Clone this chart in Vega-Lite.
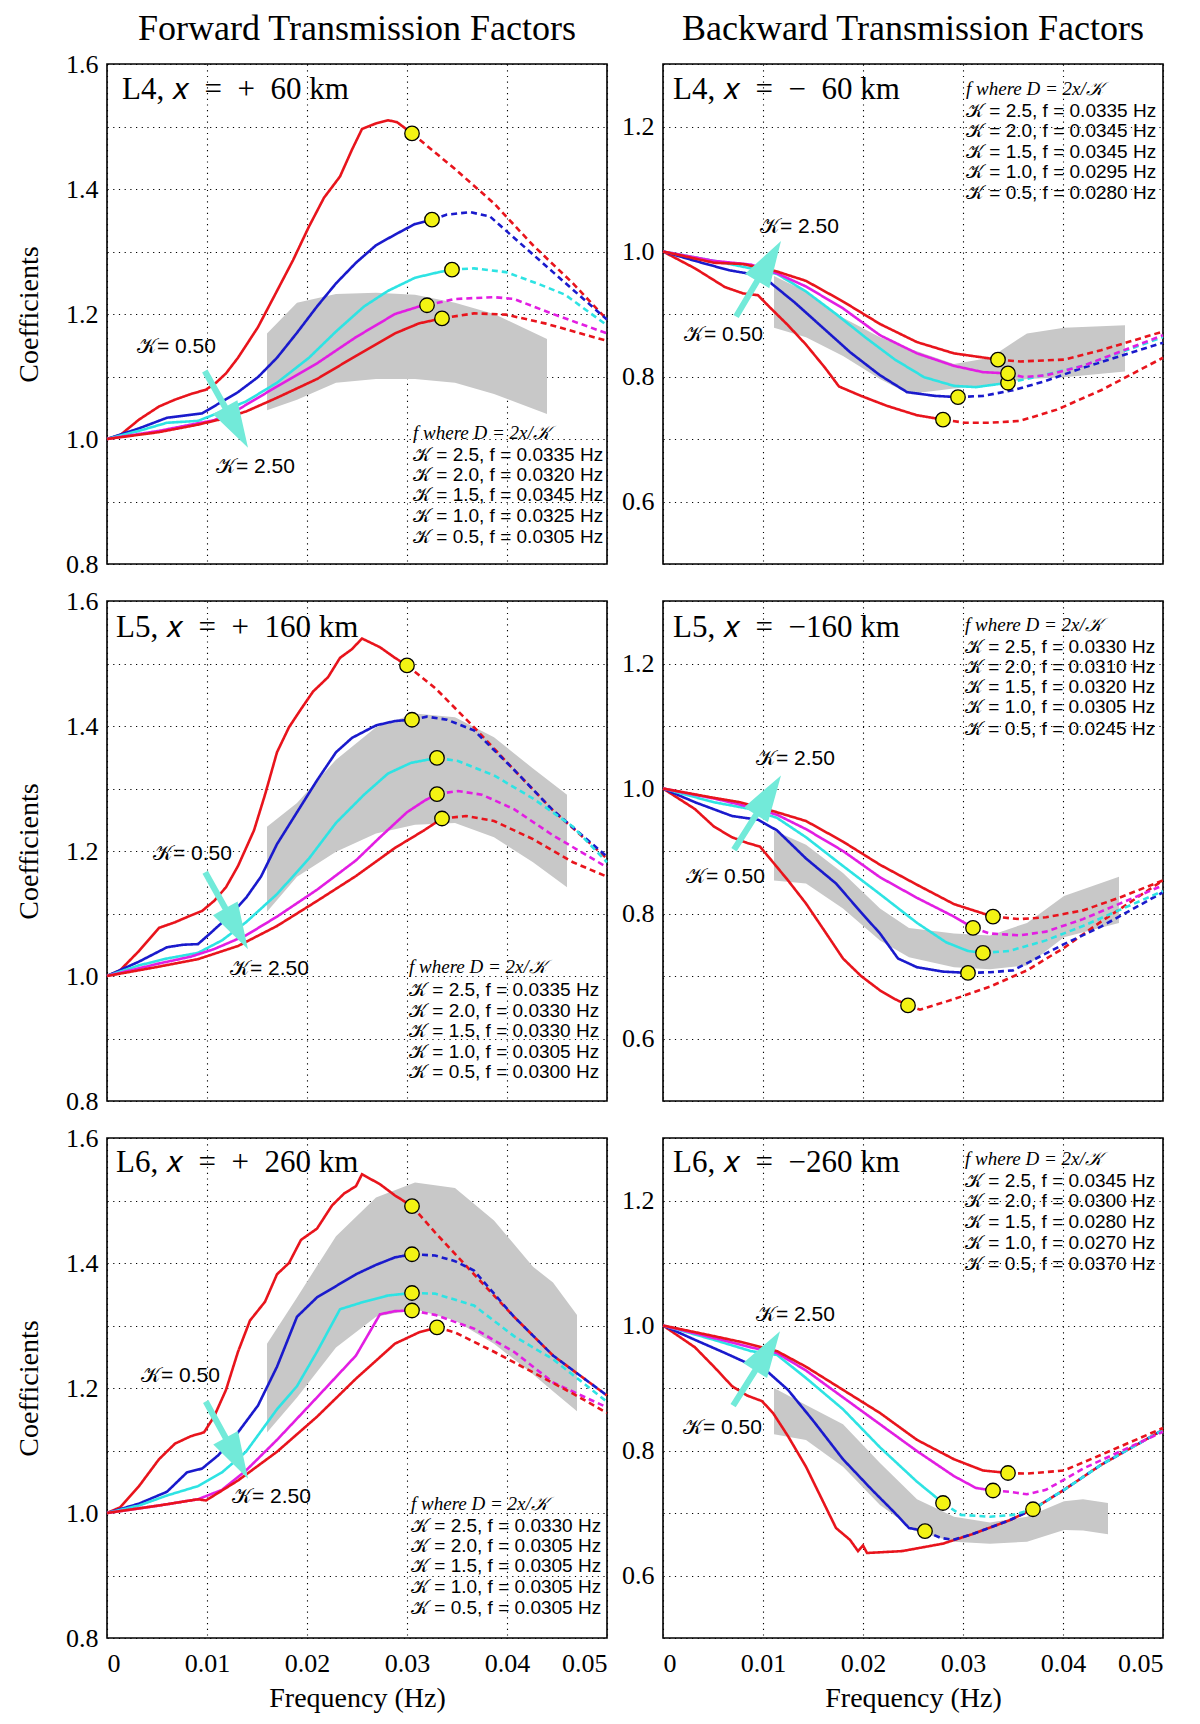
{
"$schema": "https://vega.github.io/schema/vega-lite/v6.json",
"background": "white",
"padding": {"left": 14, "top": 10, "right": 10, "bottom": 10},
"config": {
 "view": {"stroke": "black", "strokeWidth": 1.6},
 "axis": {"grid": true, "gridColor": "black", "gridDash": [1.2, 4.5], "gridWidth": 1.1, "gridOpacity": 1, "domain": false, "ticks": false, "labelFont": "Liberation Serif", "labelFontSize": 26, "labelColor": "black", "titleFont": "Liberation Serif", "titleFontSize": 28, "titleFontWeight": "normal", "titleColor": "black", "zindex": 1},
 "axisY": {"labelPadding": 9, "titlePadding": 22},
 "axisX": {"labelPadding": 12, "titlePadding": 8},
 "title": {"font": "Liberation Serif", "fontSize": 36, "fontWeight": "normal", "color": "black", "anchor": "middle", "frame": "group", "offset": 3}
},
"datasets": {
 "lines": [
  {"p":"L4f","k":"0.5","s":"a","x":0,"y":1},{"p":"L4f","k":"0.5","s":"a","x":0.0013,"y":1.006},{"p":"L4f","k":"0.5","s":"a","x":0.0032,"y":1.031},{"p":"L4f","k":"0.5","s":"a","x":0.0052,"y":1.052},{"p":"L4f","k":"0.5","s":"a","x":0.0068,"y":1.063},{"p":"L4f","k":"0.5","s":"a","x":0.0084,"y":1.072},{"p":"L4f","k":"0.5","s":"a","x":0.0099,"y":1.079},{"p":"L4f","k":"0.5","s":"a","x":0.0109,"y":1.09},{"p":"L4f","k":"0.5","s":"a","x":0.0119,"y":1.105},{"p":"L4f","k":"0.5","s":"a","x":0.0131,"y":1.13},{"p":"L4f","k":"0.5","s":"a","x":0.0151,"y":1.179},{"p":"L4f","k":"0.5","s":"a","x":0.017,"y":1.237},{"p":"L4f","k":"0.5","s":"a","x":0.0186,"y":1.286},{"p":"L4f","k":"0.5","s":"a","x":0.0202,"y":1.34},{"p":"L4f","k":"0.5","s":"a","x":0.0217,"y":1.386},{"p":"L4f","k":"0.5","s":"a","x":0.0233,"y":1.42},{"p":"L4f","k":"0.5","s":"a","x":0.0245,"y":1.463},{"p":"L4f","k":"0.5","s":"a","x":0.0255,"y":1.496},{"p":"L4f","k":"0.5","s":"a","x":0.0269,"y":1.505},{"p":"L4f","k":"0.5","s":"a","x":0.0281,"y":1.51},{"p":"L4f","k":"0.5","s":"a","x":0.029,"y":1.507},{"p":"L4f","k":"0.5","s":"a","x":0.0305,"y":1.489},
  {"p":"L4f","k":"0.5","s":"d","x":0.0305,"y":1.489},{"p":"L4f","k":"0.5","s":"d","x":0.0348,"y":1.432},{"p":"L4f","k":"0.5","s":"d","x":0.0387,"y":1.377},{"p":"L4f","k":"0.5","s":"d","x":0.0426,"y":1.31},{"p":"L4f","k":"0.5","s":"d","x":0.0466,"y":1.249},{"p":"L4f","k":"0.5","s":"d","x":0.05,"y":1.191},
  {"p":"L4f","k":"1.0","s":"a","x":0,"y":1},{"p":"L4f","k":"1.0","s":"a","x":0.0032,"y":1.017},{"p":"L4f","k":"1.0","s":"a","x":0.006,"y":1.034},{"p":"L4f","k":"1.0","s":"a","x":0.008,"y":1.038},{"p":"L4f","k":"1.0","s":"a","x":0.0095,"y":1.041},{"p":"L4f","k":"1.0","s":"a","x":0.0111,"y":1.056},{"p":"L4f","k":"1.0","s":"a","x":0.0131,"y":1.075},{"p":"L4f","k":"1.0","s":"a","x":0.0151,"y":1.099},{"p":"L4f","k":"1.0","s":"a","x":0.017,"y":1.13},{"p":"L4f","k":"1.0","s":"a","x":0.019,"y":1.17},{"p":"L4f","k":"1.0","s":"a","x":0.021,"y":1.212},{"p":"L4f","k":"1.0","s":"a","x":0.0229,"y":1.249},{"p":"L4f","k":"1.0","s":"a","x":0.0249,"y":1.282},{"p":"L4f","k":"1.0","s":"a","x":0.0269,"y":1.31},{"p":"L4f","k":"1.0","s":"a","x":0.0288,"y":1.327},{"p":"L4f","k":"1.0","s":"a","x":0.0308,"y":1.344},{"p":"L4f","k":"1.0","s":"a","x":0.0325,"y":1.351},
  {"p":"L4f","k":"1.0","s":"d","x":0.0325,"y":1.351},{"p":"L4f","k":"1.0","s":"d","x":0.034,"y":1.359},{"p":"L4f","k":"1.0","s":"d","x":0.0363,"y":1.363},{"p":"L4f","k":"1.0","s":"d","x":0.0383,"y":1.356},{"p":"L4f","k":"1.0","s":"d","x":0.0407,"y":1.322},{"p":"L4f","k":"1.0","s":"d","x":0.0446,"y":1.267},{"p":"L4f","k":"1.0","s":"d","x":0.05,"y":1.191},
  {"p":"L4f","k":"1.5","s":"a","x":0,"y":1},{"p":"L4f","k":"1.5","s":"a","x":0.0032,"y":1.013},{"p":"L4f","k":"1.5","s":"a","x":0.006,"y":1.026},{"p":"L4f","k":"1.5","s":"a","x":0.0091,"y":1.029},{"p":"L4f","k":"1.5","s":"a","x":0.0115,"y":1.044},{"p":"L4f","k":"1.5","s":"a","x":0.0139,"y":1.06},{"p":"L4f","k":"1.5","s":"a","x":0.017,"y":1.09},{"p":"L4f","k":"1.5","s":"a","x":0.0202,"y":1.13},{"p":"L4f","k":"1.5","s":"a","x":0.0229,"y":1.172},{"p":"L4f","k":"1.5","s":"a","x":0.0257,"y":1.212},{"p":"L4f","k":"1.5","s":"a","x":0.0281,"y":1.237},{"p":"L4f","k":"1.5","s":"a","x":0.0308,"y":1.258},{"p":"L4f","k":"1.5","s":"a","x":0.0332,"y":1.267},{"p":"L4f","k":"1.5","s":"a","x":0.0345,"y":1.271},
  {"p":"L4f","k":"1.5","s":"d","x":0.0345,"y":1.271},{"p":"L4f","k":"1.5","s":"d","x":0.0367,"y":1.273},{"p":"L4f","k":"1.5","s":"d","x":0.0399,"y":1.267},{"p":"L4f","k":"1.5","s":"d","x":0.043,"y":1.249},{"p":"L4f","k":"1.5","s":"d","x":0.0458,"y":1.231},{"p":"L4f","k":"1.5","s":"d","x":0.05,"y":1.182},
  {"p":"L4f","k":"2.0","s":"a","x":0,"y":1},{"p":"L4f","k":"2.0","s":"a","x":0.0052,"y":1.013},{"p":"L4f","k":"2.0","s":"a","x":0.0084,"y":1.023},{"p":"L4f","k":"2.0","s":"a","x":0.0107,"y":1.03},{"p":"L4f","k":"2.0","s":"a","x":0.0131,"y":1.047},{"p":"L4f","k":"2.0","s":"a","x":0.017,"y":1.084},{"p":"L4f","k":"2.0","s":"a","x":0.021,"y":1.121},{"p":"L4f","k":"2.0","s":"a","x":0.0249,"y":1.163},{"p":"L4f","k":"2.0","s":"a","x":0.0288,"y":1.2},{"p":"L4f","k":"2.0","s":"a","x":0.0312,"y":1.212},{"p":"L4f","k":"2.0","s":"a","x":0.032,"y":1.214},
  {"p":"L4f","k":"2.0","s":"d","x":0.032,"y":1.214},{"p":"L4f","k":"2.0","s":"d","x":0.0348,"y":1.224},{"p":"L4f","k":"2.0","s":"d","x":0.0387,"y":1.227},{"p":"L4f","k":"2.0","s":"d","x":0.0407,"y":1.224},{"p":"L4f","k":"2.0","s":"d","x":0.0446,"y":1.2},{"p":"L4f","k":"2.0","s":"d","x":0.05,"y":1.169},
  {"p":"L4f","k":"2.5","s":"a","x":0,"y":1},{"p":"L4f","k":"2.5","s":"a","x":0.0052,"y":1.011},{"p":"L4f","k":"2.5","s":"a","x":0.0091,"y":1.023},{"p":"L4f","k":"2.5","s":"a","x":0.0115,"y":1.032},{"p":"L4f","k":"2.5","s":"a","x":0.0139,"y":1.044},{"p":"L4f","k":"2.5","s":"a","x":0.017,"y":1.066},{"p":"L4f","k":"2.5","s":"a","x":0.021,"y":1.096},{"p":"L4f","k":"2.5","s":"a","x":0.0249,"y":1.133},{"p":"L4f","k":"2.5","s":"a","x":0.0288,"y":1.169},{"p":"L4f","k":"2.5","s":"a","x":0.0312,"y":1.185},{"p":"L4f","k":"2.5","s":"a","x":0.0335,"y":1.193},
  {"p":"L4f","k":"2.5","s":"d","x":0.0335,"y":1.193},{"p":"L4f","k":"2.5","s":"d","x":0.0367,"y":1.201},{"p":"L4f","k":"2.5","s":"d","x":0.0399,"y":1.199},{"p":"L4f","k":"2.5","s":"d","x":0.0438,"y":1.185},{"p":"L4f","k":"2.5","s":"d","x":0.05,"y":1.157},

  {"p":"L4b","k":"0.5","s":"a","x":0,"y":1},{"p":"L4b","k":"0.5","s":"a","x":0.0032,"y":0.973},{"p":"L4b","k":"0.5","s":"a","x":0.0062,"y":0.943},{"p":"L4b","k":"0.5","s":"a","x":0.008,"y":0.933},{"p":"L4b","k":"0.5","s":"a","x":0.0095,"y":0.93},{"p":"L4b","k":"0.5","s":"a","x":0.0106,"y":0.912},{"p":"L4b","k":"0.5","s":"a","x":0.0125,"y":0.882},{"p":"L4b","k":"0.5","s":"a","x":0.0143,"y":0.851},{"p":"L4b","k":"0.5","s":"a","x":0.0162,"y":0.814},{"p":"L4b","k":"0.5","s":"a","x":0.0176,"y":0.784},{"p":"L4b","k":"0.5","s":"a","x":0.0198,"y":0.769},{"p":"L4b","k":"0.5","s":"a","x":0.0224,"y":0.753},{"p":"L4b","k":"0.5","s":"a","x":0.0254,"y":0.738},{"p":"L4b","k":"0.5","s":"a","x":0.028,"y":0.731},
  {"p":"L4b","k":"0.5","s":"d","x":0.028,"y":0.731},{"p":"L4b","k":"0.5","s":"d","x":0.0302,"y":0.726},{"p":"L4b","k":"0.5","s":"d","x":0.0327,"y":0.726},{"p":"L4b","k":"0.5","s":"d","x":0.0357,"y":0.729},{"p":"L4b","k":"0.5","s":"d","x":0.0394,"y":0.747},{"p":"L4b","k":"0.5","s":"d","x":0.0438,"y":0.778},{"p":"L4b","k":"0.5","s":"d","x":0.05,"y":0.83},
  {"p":"L4b","k":"1.0","s":"a","x":0,"y":1},{"p":"L4b","k":"1.0","s":"a","x":0.0032,"y":0.985},{"p":"L4b","k":"1.0","s":"a","x":0.0066,"y":0.97},{"p":"L4b","k":"1.0","s":"a","x":0.0088,"y":0.964},{"p":"L4b","k":"1.0","s":"a","x":0.0106,"y":0.952},{"p":"L4b","k":"1.0","s":"a","x":0.0132,"y":0.918},{"p":"L4b","k":"1.0","s":"a","x":0.0162,"y":0.875},{"p":"L4b","k":"1.0","s":"a","x":0.0187,"y":0.839},{"p":"L4b","k":"1.0","s":"a","x":0.0217,"y":0.802},{"p":"L4b","k":"1.0","s":"a","x":0.0244,"y":0.775},{"p":"L4b","k":"1.0","s":"a","x":0.0272,"y":0.769},{"p":"L4b","k":"1.0","s":"a","x":0.0295,"y":0.767},
  {"p":"L4b","k":"1.0","s":"d","x":0.0295,"y":0.767},{"p":"L4b","k":"1.0","s":"d","x":0.032,"y":0.769},{"p":"L4b","k":"1.0","s":"d","x":0.035,"y":0.778},{"p":"L4b","k":"1.0","s":"d","x":0.0383,"y":0.793},{"p":"L4b","k":"1.0","s":"d","x":0.042,"y":0.814},{"p":"L4b","k":"1.0","s":"d","x":0.05,"y":0.854},
  {"p":"L4b","k":"1.5","s":"a","x":0,"y":1},{"p":"L4b","k":"1.5","s":"a","x":0.0051,"y":0.985},{"p":"L4b","k":"1.5","s":"a","x":0.0088,"y":0.973},{"p":"L4b","k":"1.5","s":"a","x":0.0114,"y":0.964},{"p":"L4b","k":"1.5","s":"a","x":0.0143,"y":0.936},{"p":"L4b","k":"1.5","s":"a","x":0.0173,"y":0.9},{"p":"L4b","k":"1.5","s":"a","x":0.0202,"y":0.863},{"p":"L4b","k":"1.5","s":"a","x":0.0232,"y":0.827},{"p":"L4b","k":"1.5","s":"a","x":0.0261,"y":0.799},{"p":"L4b","k":"1.5","s":"a","x":0.0291,"y":0.785},{"p":"L4b","k":"1.5","s":"a","x":0.0313,"y":0.783},{"p":"L4b","k":"1.5","s":"a","x":0.0345,"y":0.79},
  {"p":"L4b","k":"1.5","s":"d","x":0.0345,"y":0.79},{"p":"L4b","k":"1.5","s":"d","x":0.0372,"y":0.799},{"p":"L4b","k":"1.5","s":"d","x":0.042,"y":0.817},{"p":"L4b","k":"1.5","s":"d","x":0.05,"y":0.863},
  {"p":"L4b","k":"2.0","s":"a","x":0,"y":1},{"p":"L4b","k":"2.0","s":"a","x":0.0051,"y":0.985},{"p":"L4b","k":"2.0","s":"a","x":0.0088,"y":0.979},{"p":"L4b","k":"2.0","s":"a","x":0.0114,"y":0.965},{"p":"L4b","k":"2.0","s":"a","x":0.0143,"y":0.944},{"p":"L4b","k":"2.0","s":"a","x":0.018,"y":0.909},{"p":"L4b","k":"2.0","s":"a","x":0.0217,"y":0.866},{"p":"L4b","k":"2.0","s":"a","x":0.0254,"y":0.837},{"p":"L4b","k":"2.0","s":"a","x":0.0291,"y":0.817},{"p":"L4b","k":"2.0","s":"a","x":0.032,"y":0.807},{"p":"L4b","k":"2.0","s":"a","x":0.0345,"y":0.805},
  {"p":"L4b","k":"2.0","s":"d","x":0.0345,"y":0.805},{"p":"L4b","k":"2.0","s":"d","x":0.0361,"y":0.799},{"p":"L4b","k":"2.0","s":"d","x":0.0383,"y":0.802},{"p":"L4b","k":"2.0","s":"d","x":0.042,"y":0.817},{"p":"L4b","k":"2.0","s":"d","x":0.05,"y":0.866},
  {"p":"L4b","k":"2.5","s":"a","x":0,"y":1},{"p":"L4b","k":"2.5","s":"a","x":0.0051,"y":0.982},{"p":"L4b","k":"2.5","s":"a","x":0.008,"y":0.98},{"p":"L4b","k":"2.5","s":"a","x":0.0114,"y":0.968},{"p":"L4b","k":"2.5","s":"a","x":0.0143,"y":0.953},{"p":"L4b","k":"2.5","s":"a","x":0.018,"y":0.92},{"p":"L4b","k":"2.5","s":"a","x":0.0217,"y":0.884},{"p":"L4b","k":"2.5","s":"a","x":0.0254,"y":0.855},{"p":"L4b","k":"2.5","s":"a","x":0.0291,"y":0.837},{"p":"L4b","k":"2.5","s":"a","x":0.0335,"y":0.827},
  {"p":"L4b","k":"2.5","s":"d","x":0.0335,"y":0.827},{"p":"L4b","k":"2.5","s":"d","x":0.0357,"y":0.824},{"p":"L4b","k":"2.5","s":"d","x":0.0401,"y":0.827},{"p":"L4b","k":"2.5","s":"d","x":0.0438,"y":0.842},{"p":"L4b","k":"2.5","s":"d","x":0.05,"y":0.872},

  {"p":"L5f","k":"0.5","s":"a","x":0,"y":1},{"p":"L5f","k":"0.5","s":"a","x":0.0013,"y":1.009},{"p":"L5f","k":"0.5","s":"a","x":0.0032,"y":1.04},{"p":"L5f","k":"0.5","s":"a","x":0.0052,"y":1.077},{"p":"L5f","k":"0.5","s":"a","x":0.0068,"y":1.086},{"p":"L5f","k":"0.5","s":"a","x":0.0084,"y":1.097},{"p":"L5f","k":"0.5","s":"a","x":0.0095,"y":1.104},{"p":"L5f","k":"0.5","s":"a","x":0.0107,"y":1.12},{"p":"L5f","k":"0.5","s":"a","x":0.0119,"y":1.142},{"p":"L5f","k":"0.5","s":"a","x":0.0131,"y":1.176},{"p":"L5f","k":"0.5","s":"a","x":0.0147,"y":1.233},{"p":"L5f","k":"0.5","s":"a","x":0.0158,"y":1.29},{"p":"L5f","k":"0.5","s":"a","x":0.017,"y":1.358},{"p":"L5f","k":"0.5","s":"a","x":0.0182,"y":1.398},{"p":"L5f","k":"0.5","s":"a","x":0.0194,"y":1.427},{"p":"L5f","k":"0.5","s":"a","x":0.0206,"y":1.455},{"p":"L5f","k":"0.5","s":"a","x":0.0221,"y":1.478},{"p":"L5f","k":"0.5","s":"a","x":0.0233,"y":1.509},{"p":"L5f","k":"0.5","s":"a","x":0.0245,"y":1.523},{"p":"L5f","k":"0.5","s":"a","x":0.0255,"y":1.54},{"p":"L5f","k":"0.5","s":"a","x":0.0273,"y":1.526},{"p":"L5f","k":"0.5","s":"a","x":0.0288,"y":1.509},{"p":"L5f","k":"0.5","s":"a","x":0.03,"y":1.497},
  {"p":"L5f","k":"0.5","s":"d","x":0.03,"y":1.497},{"p":"L5f","k":"0.5","s":"d","x":0.0328,"y":1.461},{"p":"L5f","k":"0.5","s":"d","x":0.0367,"y":1.398},{"p":"L5f","k":"0.5","s":"d","x":0.0407,"y":1.33},{"p":"L5f","k":"0.5","s":"d","x":0.0446,"y":1.265},{"p":"L5f","k":"0.5","s":"d","x":0.05,"y":1.188},
  {"p":"L5f","k":"1.0","s":"a","x":0,"y":1},{"p":"L5f","k":"1.0","s":"a","x":0.0032,"y":1.023},{"p":"L5f","k":"1.0","s":"a","x":0.006,"y":1.046},{"p":"L5f","k":"1.0","s":"a","x":0.0076,"y":1.05},{"p":"L5f","k":"1.0","s":"a","x":0.0091,"y":1.051},{"p":"L5f","k":"1.0","s":"a","x":0.0103,"y":1.068},{"p":"L5f","k":"1.0","s":"a","x":0.0123,"y":1.097},{"p":"L5f","k":"1.0","s":"a","x":0.0139,"y":1.125},{"p":"L5f","k":"1.0","s":"a","x":0.0154,"y":1.159},{"p":"L5f","k":"1.0","s":"a","x":0.017,"y":1.211},{"p":"L5f","k":"1.0","s":"a","x":0.019,"y":1.262},{"p":"L5f","k":"1.0","s":"a","x":0.021,"y":1.313},{"p":"L5f","k":"1.0","s":"a","x":0.0229,"y":1.358},{"p":"L5f","k":"1.0","s":"a","x":0.0245,"y":1.381},{"p":"L5f","k":"1.0","s":"a","x":0.0269,"y":1.401},{"p":"L5f","k":"1.0","s":"a","x":0.0288,"y":1.408},{"p":"L5f","k":"1.0","s":"a","x":0.0305,"y":1.41},
  {"p":"L5f","k":"1.0","s":"d","x":0.0305,"y":1.41},{"p":"L5f","k":"1.0","s":"d","x":0.032,"y":1.415},{"p":"L5f","k":"1.0","s":"d","x":0.034,"y":1.41},{"p":"L5f","k":"1.0","s":"d","x":0.0367,"y":1.393},{"p":"L5f","k":"1.0","s":"d","x":0.0407,"y":1.33},{"p":"L5f","k":"1.0","s":"d","x":0.0446,"y":1.265},{"p":"L5f","k":"1.0","s":"d","x":0.05,"y":1.191},
  {"p":"L5f","k":"1.5","s":"a","x":0,"y":1},{"p":"L5f","k":"1.5","s":"a","x":0.0032,"y":1.017},{"p":"L5f","k":"1.5","s":"a","x":0.006,"y":1.028},{"p":"L5f","k":"1.5","s":"a","x":0.0091,"y":1.037},{"p":"L5f","k":"1.5","s":"a","x":0.0115,"y":1.057},{"p":"L5f","k":"1.5","s":"a","x":0.0139,"y":1.086},{"p":"L5f","k":"1.5","s":"a","x":0.017,"y":1.131},{"p":"L5f","k":"1.5","s":"a","x":0.0202,"y":1.188},{"p":"L5f","k":"1.5","s":"a","x":0.0229,"y":1.245},{"p":"L5f","k":"1.5","s":"a","x":0.0257,"y":1.29},{"p":"L5f","k":"1.5","s":"a","x":0.0281,"y":1.324},{"p":"L5f","k":"1.5","s":"a","x":0.0304,"y":1.341},{"p":"L5f","k":"1.5","s":"a","x":0.033,"y":1.349},
  {"p":"L5f","k":"1.5","s":"d","x":0.033,"y":1.349},{"p":"L5f","k":"1.5","s":"d","x":0.0351,"y":1.344},{"p":"L5f","k":"1.5","s":"d","x":0.0387,"y":1.321},{"p":"L5f","k":"1.5","s":"d","x":0.0426,"y":1.284},{"p":"L5f","k":"1.5","s":"d","x":0.0466,"y":1.239},{"p":"L5f","k":"1.5","s":"d","x":0.05,"y":1.182},
  {"p":"L5f","k":"2.0","s":"a","x":0,"y":1},{"p":"L5f","k":"2.0","s":"a","x":0.0052,"y":1.02},{"p":"L5f","k":"2.0","s":"a","x":0.0084,"y":1.031},{"p":"L5f","k":"2.0","s":"a","x":0.0107,"y":1.043},{"p":"L5f","k":"2.0","s":"a","x":0.0139,"y":1.065},{"p":"L5f","k":"2.0","s":"a","x":0.017,"y":1.095},{"p":"L5f","k":"2.0","s":"a","x":0.021,"y":1.138},{"p":"L5f","k":"2.0","s":"a","x":0.0249,"y":1.185},{"p":"L5f","k":"2.0","s":"a","x":0.0273,"y":1.222},{"p":"L5f","k":"2.0","s":"a","x":0.03,"y":1.262},{"p":"L5f","k":"2.0","s":"a","x":0.0318,"y":1.281},{"p":"L5f","k":"2.0","s":"a","x":0.033,"y":1.291},
  {"p":"L5f","k":"2.0","s":"d","x":0.033,"y":1.291},{"p":"L5f","k":"2.0","s":"d","x":0.0351,"y":1.296},{"p":"L5f","k":"2.0","s":"d","x":0.0375,"y":1.29},{"p":"L5f","k":"2.0","s":"d","x":0.0407,"y":1.267},{"p":"L5f","k":"2.0","s":"d","x":0.0446,"y":1.225},{"p":"L5f","k":"2.0","s":"d","x":0.05,"y":1.174},
  {"p":"L5f","k":"2.5","s":"a","x":0,"y":1},{"p":"L5f","k":"2.5","s":"a","x":0.0052,"y":1.015},{"p":"L5f","k":"2.5","s":"a","x":0.0091,"y":1.027},{"p":"L5f","k":"2.5","s":"a","x":0.0131,"y":1.048},{"p":"L5f","k":"2.5","s":"a","x":0.017,"y":1.08},{"p":"L5f","k":"2.5","s":"a","x":0.021,"y":1.12},{"p":"L5f","k":"2.5","s":"a","x":0.0249,"y":1.16},{"p":"L5f","k":"2.5","s":"a","x":0.0288,"y":1.205},{"p":"L5f","k":"2.5","s":"a","x":0.0316,"y":1.232},{"p":"L5f","k":"2.5","s":"a","x":0.0335,"y":1.252},
  {"p":"L5f","k":"2.5","s":"d","x":0.0335,"y":1.252},{"p":"L5f","k":"2.5","s":"d","x":0.0359,"y":1.256},{"p":"L5f","k":"2.5","s":"d","x":0.0387,"y":1.248},{"p":"L5f","k":"2.5","s":"d","x":0.0426,"y":1.219},{"p":"L5f","k":"2.5","s":"d","x":0.0466,"y":1.182},{"p":"L5f","k":"2.5","s":"d","x":0.05,"y":1.159},

  {"p":"L5b","k":"0.5","s":"a","x":0,"y":1},{"p":"L5b","k":"0.5","s":"a","x":0.0032,"y":0.967},{"p":"L5b","k":"0.5","s":"a","x":0.0051,"y":0.939},{"p":"L5b","k":"0.5","s":"a","x":0.0069,"y":0.922},{"p":"L5b","k":"0.5","s":"a","x":0.0084,"y":0.913},{"p":"L5b","k":"0.5","s":"a","x":0.0097,"y":0.907},{"p":"L5b","k":"0.5","s":"a","x":0.011,"y":0.882},{"p":"L5b","k":"0.5","s":"a","x":0.0125,"y":0.853},{"p":"L5b","k":"0.5","s":"a","x":0.0143,"y":0.816},{"p":"L5b","k":"0.5","s":"a","x":0.0162,"y":0.771},{"p":"L5b","k":"0.5","s":"a","x":0.018,"y":0.728},{"p":"L5b","k":"0.5","s":"a","x":0.0198,"y":0.7},{"p":"L5b","k":"0.5","s":"a","x":0.0217,"y":0.677},{"p":"L5b","k":"0.5","s":"a","x":0.0232,"y":0.663},{"p":"L5b","k":"0.5","s":"a","x":0.0245,"y":0.653},
  {"p":"L5b","k":"0.5","s":"d","x":0.0245,"y":0.653},{"p":"L5b","k":"0.5","s":"d","x":0.0257,"y":0.646},{"p":"L5b","k":"0.5","s":"d","x":0.0291,"y":0.663},{"p":"L5b","k":"0.5","s":"d","x":0.0327,"y":0.683},{"p":"L5b","k":"0.5","s":"d","x":0.0364,"y":0.709},{"p":"L5b","k":"0.5","s":"d","x":0.0401,"y":0.745},{"p":"L5b","k":"0.5","s":"d","x":0.0438,"y":0.787},{"p":"L5b","k":"0.5","s":"d","x":0.05,"y":0.853},
  {"p":"L5b","k":"1.0","s":"a","x":0,"y":1},{"p":"L5b","k":"1.0","s":"a","x":0.0032,"y":0.978},{"p":"L5b","k":"1.0","s":"a","x":0.0069,"y":0.956},{"p":"L5b","k":"1.0","s":"a","x":0.0095,"y":0.95},{"p":"L5b","k":"1.0","s":"a","x":0.0114,"y":0.933},{"p":"L5b","k":"1.0","s":"a","x":0.0143,"y":0.888},{"p":"L5b","k":"1.0","s":"a","x":0.0173,"y":0.848},{"p":"L5b","k":"1.0","s":"a","x":0.0198,"y":0.802},{"p":"L5b","k":"1.0","s":"a","x":0.0217,"y":0.768},{"p":"L5b","k":"1.0","s":"a","x":0.0235,"y":0.728},{"p":"L5b","k":"1.0","s":"a","x":0.0254,"y":0.714},{"p":"L5b","k":"1.0","s":"a","x":0.028,"y":0.707},{"p":"L5b","k":"1.0","s":"a","x":0.0305,"y":0.705},
  {"p":"L5b","k":"1.0","s":"d","x":0.0305,"y":0.705},{"p":"L5b","k":"1.0","s":"d","x":0.0327,"y":0.706},{"p":"L5b","k":"1.0","s":"d","x":0.035,"y":0.709},{"p":"L5b","k":"1.0","s":"d","x":0.0401,"y":0.751},{"p":"L5b","k":"1.0","s":"d","x":0.0438,"y":0.779},{"p":"L5b","k":"1.0","s":"d","x":0.05,"y":0.834},
  {"p":"L5b","k":"1.5","s":"a","x":0,"y":1},{"p":"L5b","k":"1.5","s":"a","x":0.0051,"y":0.978},{"p":"L5b","k":"1.5","s":"a","x":0.0088,"y":0.967},{"p":"L5b","k":"1.5","s":"a","x":0.0114,"y":0.953},{"p":"L5b","k":"1.5","s":"a","x":0.0143,"y":0.922},{"p":"L5b","k":"1.5","s":"a","x":0.018,"y":0.876},{"p":"L5b","k":"1.5","s":"a","x":0.0217,"y":0.831},{"p":"L5b","k":"1.5","s":"a","x":0.0254,"y":0.785},{"p":"L5b","k":"1.5","s":"a","x":0.0283,"y":0.754},{"p":"L5b","k":"1.5","s":"a","x":0.0305,"y":0.74},{"p":"L5b","k":"1.5","s":"a","x":0.032,"y":0.737},
  {"p":"L5b","k":"1.5","s":"d","x":0.032,"y":0.737},{"p":"L5b","k":"1.5","s":"d","x":0.0346,"y":0.74},{"p":"L5b","k":"1.5","s":"d","x":0.0383,"y":0.757},{"p":"L5b","k":"1.5","s":"d","x":0.042,"y":0.78},{"p":"L5b","k":"1.5","s":"d","x":0.05,"y":0.836},
  {"p":"L5b","k":"2.0","s":"a","x":0,"y":1},{"p":"L5b","k":"2.0","s":"a","x":0.0051,"y":0.984},{"p":"L5b","k":"2.0","s":"a","x":0.0088,"y":0.97},{"p":"L5b","k":"2.0","s":"a","x":0.0114,"y":0.958},{"p":"L5b","k":"2.0","s":"a","x":0.0143,"y":0.935},{"p":"L5b","k":"2.0","s":"a","x":0.018,"y":0.9},{"p":"L5b","k":"2.0","s":"a","x":0.0217,"y":0.858},{"p":"L5b","k":"2.0","s":"a","x":0.0254,"y":0.825},{"p":"L5b","k":"2.0","s":"a","x":0.0291,"y":0.795},{"p":"L5b","k":"2.0","s":"a","x":0.031,"y":0.777},
  {"p":"L5b","k":"2.0","s":"d","x":0.031,"y":0.777},{"p":"L5b","k":"2.0","s":"d","x":0.0327,"y":0.768},{"p":"L5b","k":"2.0","s":"d","x":0.0357,"y":0.765},{"p":"L5b","k":"2.0","s":"d","x":0.0383,"y":0.771},{"p":"L5b","k":"2.0","s":"d","x":0.042,"y":0.791},{"p":"L5b","k":"2.0","s":"d","x":0.05,"y":0.845},
  {"p":"L5b","k":"2.5","s":"a","x":0,"y":1},{"p":"L5b","k":"2.5","s":"a","x":0.0051,"y":0.985},{"p":"L5b","k":"2.5","s":"a","x":0.0077,"y":0.978},{"p":"L5b","k":"2.5","s":"a","x":0.0114,"y":0.962},{"p":"L5b","k":"2.5","s":"a","x":0.0143,"y":0.948},{"p":"L5b","k":"2.5","s":"a","x":0.018,"y":0.915},{"p":"L5b","k":"2.5","s":"a","x":0.0217,"y":0.878},{"p":"L5b","k":"2.5","s":"a","x":0.0254,"y":0.846},{"p":"L5b","k":"2.5","s":"a","x":0.0291,"y":0.815},{"p":"L5b","k":"2.5","s":"a","x":0.033,"y":0.795},
  {"p":"L5b","k":"2.5","s":"d","x":0.033,"y":0.795},{"p":"L5b","k":"2.5","s":"d","x":0.0357,"y":0.791},{"p":"L5b","k":"2.5","s":"d","x":0.0383,"y":0.794},{"p":"L5b","k":"2.5","s":"d","x":0.042,"y":0.805},{"p":"L5b","k":"2.5","s":"d","x":0.0456,"y":0.825},{"p":"L5b","k":"2.5","s":"d","x":0.05,"y":0.853},

  {"p":"L6f","k":"0.5","s":"a","x":0,"y":1},{"p":"L6f","k":"0.5","s":"a","x":0.0013,"y":1.009},{"p":"L6f","k":"0.5","s":"a","x":0.0032,"y":1.043},{"p":"L6f","k":"0.5","s":"a","x":0.0052,"y":1.086},{"p":"L6f","k":"0.5","s":"a","x":0.0068,"y":1.111},{"p":"L6f","k":"0.5","s":"a","x":0.0084,"y":1.123},{"p":"L6f","k":"0.5","s":"a","x":0.0097,"y":1.129},{"p":"L6f","k":"0.5","s":"a","x":0.0107,"y":1.154},{"p":"L6f","k":"0.5","s":"a","x":0.0119,"y":1.197},{"p":"L6f","k":"0.5","s":"a","x":0.0131,"y":1.258},{"p":"L6f","k":"0.5","s":"a","x":0.0143,"y":1.308},{"p":"L6f","k":"0.5","s":"a","x":0.0158,"y":1.338},{"p":"L6f","k":"0.5","s":"a","x":0.017,"y":1.382},{"p":"L6f","k":"0.5","s":"a","x":0.0182,"y":1.4},{"p":"L6f","k":"0.5","s":"a","x":0.0194,"y":1.437},{"p":"L6f","k":"0.5","s":"a","x":0.021,"y":1.455},{"p":"L6f","k":"0.5","s":"a","x":0.0225,"y":1.492},{"p":"L6f","k":"0.5","s":"a","x":0.0237,"y":1.511},{"p":"L6f","k":"0.5","s":"a","x":0.0249,"y":1.523},{"p":"L6f","k":"0.5","s":"a","x":0.0255,"y":1.542},{"p":"L6f","k":"0.5","s":"a","x":0.0273,"y":1.526},{"p":"L6f","k":"0.5","s":"a","x":0.0288,"y":1.508},{"p":"L6f","k":"0.5","s":"a","x":0.0305,"y":1.491},
  {"p":"L6f","k":"0.5","s":"d","x":0.0305,"y":1.491},{"p":"L6f","k":"0.5","s":"d","x":0.0328,"y":1.449},{"p":"L6f","k":"0.5","s":"d","x":0.0367,"y":1.382},{"p":"L6f","k":"0.5","s":"d","x":0.0407,"y":1.314},{"p":"L6f","k":"0.5","s":"d","x":0.0446,"y":1.252},{"p":"L6f","k":"0.5","s":"d","x":0.05,"y":1.188},
  {"p":"L6f","k":"1.0","s":"a","x":0,"y":1},{"p":"L6f","k":"1.0","s":"a","x":0.0032,"y":1.015},{"p":"L6f","k":"1.0","s":"a","x":0.006,"y":1.034},{"p":"L6f","k":"1.0","s":"a","x":0.008,"y":1.065},{"p":"L6f","k":"1.0","s":"a","x":0.0095,"y":1.071},{"p":"L6f","k":"1.0","s":"a","x":0.0111,"y":1.092},{"p":"L6f","k":"1.0","s":"a","x":0.0131,"y":1.129},{"p":"L6f","k":"1.0","s":"a","x":0.0151,"y":1.172},{"p":"L6f","k":"1.0","s":"a","x":0.017,"y":1.234},{"p":"L6f","k":"1.0","s":"a","x":0.019,"y":1.314},{"p":"L6f","k":"1.0","s":"a","x":0.021,"y":1.345},{"p":"L6f","k":"1.0","s":"a","x":0.0229,"y":1.363},{"p":"L6f","k":"1.0","s":"a","x":0.0249,"y":1.382},{"p":"L6f","k":"1.0","s":"a","x":0.0269,"y":1.397},{"p":"L6f","k":"1.0","s":"a","x":0.0288,"y":1.409},{"p":"L6f","k":"1.0","s":"a","x":0.0305,"y":1.414},
  {"p":"L6f","k":"1.0","s":"d","x":0.0305,"y":1.414},{"p":"L6f","k":"1.0","s":"d","x":0.0328,"y":1.412},{"p":"L6f","k":"1.0","s":"d","x":0.0348,"y":1.403},{"p":"L6f","k":"1.0","s":"d","x":0.0367,"y":1.388},{"p":"L6f","k":"1.0","s":"d","x":0.0407,"y":1.314},{"p":"L6f","k":"1.0","s":"d","x":0.0446,"y":1.252},{"p":"L6f","k":"1.0","s":"d","x":0.05,"y":1.188},
  {"p":"L6f","k":"1.5","s":"a","x":0,"y":1},{"p":"L6f","k":"1.5","s":"a","x":0.0032,"y":1.012},{"p":"L6f","k":"1.5","s":"a","x":0.006,"y":1.028},{"p":"L6f","k":"1.5","s":"a","x":0.0091,"y":1.043},{"p":"L6f","k":"1.5","s":"a","x":0.0115,"y":1.065},{"p":"L6f","k":"1.5","s":"a","x":0.0139,"y":1.098},{"p":"L6f","k":"1.5","s":"a","x":0.017,"y":1.166},{"p":"L6f","k":"1.5","s":"a","x":0.019,"y":1.203},{"p":"L6f","k":"1.5","s":"a","x":0.021,"y":1.258},{"p":"L6f","k":"1.5","s":"a","x":0.0233,"y":1.326},{"p":"L6f","k":"1.5","s":"a","x":0.0257,"y":1.338},{"p":"L6f","k":"1.5","s":"a","x":0.0281,"y":1.348},{"p":"L6f","k":"1.5","s":"a","x":0.0305,"y":1.352},
  {"p":"L6f","k":"1.5","s":"d","x":0.0305,"y":1.352},{"p":"L6f","k":"1.5","s":"d","x":0.0328,"y":1.351},{"p":"L6f","k":"1.5","s":"d","x":0.0367,"y":1.332},{"p":"L6f","k":"1.5","s":"d","x":0.0407,"y":1.283},{"p":"L6f","k":"1.5","s":"d","x":0.0446,"y":1.246},{"p":"L6f","k":"1.5","s":"d","x":0.05,"y":1.178},
  {"p":"L6f","k":"2.0","s":"a","x":0,"y":1},{"p":"L6f","k":"2.0","s":"a","x":0.0052,"y":1.012},{"p":"L6f","k":"2.0","s":"a","x":0.0091,"y":1.022},{"p":"L6f","k":"2.0","s":"a","x":0.0115,"y":1.037},{"p":"L6f","k":"2.0","s":"a","x":0.0139,"y":1.068},{"p":"L6f","k":"2.0","s":"a","x":0.017,"y":1.117},{"p":"L6f","k":"2.0","s":"a","x":0.021,"y":1.185},{"p":"L6f","k":"2.0","s":"a","x":0.0249,"y":1.252},{"p":"L6f","k":"2.0","s":"a","x":0.0273,"y":1.318},{"p":"L6f","k":"2.0","s":"a","x":0.0288,"y":1.323},{"p":"L6f","k":"2.0","s":"a","x":0.0305,"y":1.324},
  {"p":"L6f","k":"2.0","s":"d","x":0.0305,"y":1.324},{"p":"L6f","k":"2.0","s":"d","x":0.0328,"y":1.317},{"p":"L6f","k":"2.0","s":"d","x":0.0367,"y":1.295},{"p":"L6f","k":"2.0","s":"d","x":0.0407,"y":1.258},{"p":"L6f","k":"2.0","s":"d","x":0.0446,"y":1.209},{"p":"L6f","k":"2.0","s":"d","x":0.05,"y":1.169},
  {"p":"L6f","k":"2.5","s":"a","x":0,"y":1},{"p":"L6f","k":"2.5","s":"a","x":0.0052,"y":1.012},{"p":"L6f","k":"2.5","s":"a","x":0.0091,"y":1.022},{"p":"L6f","k":"2.5","s":"a","x":0.0099,"y":1.02},{"p":"L6f","k":"2.5","s":"a","x":0.0131,"y":1.052},{"p":"L6f","k":"2.5","s":"a","x":0.017,"y":1.098},{"p":"L6f","k":"2.5","s":"a","x":0.021,"y":1.154},{"p":"L6f","k":"2.5","s":"a","x":0.0249,"y":1.215},{"p":"L6f","k":"2.5","s":"a","x":0.0288,"y":1.271},{"p":"L6f","k":"2.5","s":"a","x":0.0312,"y":1.289},{"p":"L6f","k":"2.5","s":"a","x":0.033,"y":1.297},
  {"p":"L6f","k":"2.5","s":"d","x":0.033,"y":1.297},{"p":"L6f","k":"2.5","s":"d","x":0.0348,"y":1.289},{"p":"L6f","k":"2.5","s":"d","x":0.0387,"y":1.258},{"p":"L6f","k":"2.5","s":"d","x":0.0426,"y":1.225},{"p":"L6f","k":"2.5","s":"d","x":0.0466,"y":1.191},{"p":"L6f","k":"2.5","s":"d","x":0.05,"y":1.16},

  {"p":"L6b","k":"0.5","s":"a","x":0,"y":1},{"p":"L6b","k":"0.5","s":"a","x":0.0032,"y":0.965},{"p":"L6b","k":"0.5","s":"a","x":0.0051,"y":0.934},{"p":"L6b","k":"0.5","s":"a","x":0.0069,"y":0.903},{"p":"L6b","k":"0.5","s":"a","x":0.0084,"y":0.888},{"p":"L6b","k":"0.5","s":"a","x":0.0099,"y":0.879},{"p":"L6b","k":"0.5","s":"a","x":0.011,"y":0.86},{"p":"L6b","k":"0.5","s":"a","x":0.0125,"y":0.823},{"p":"L6b","k":"0.5","s":"a","x":0.0143,"y":0.774},{"p":"L6b","k":"0.5","s":"a","x":0.0158,"y":0.725},{"p":"L6b","k":"0.5","s":"a","x":0.0173,"y":0.676},{"p":"L6b","k":"0.5","s":"a","x":0.0187,"y":0.657},{"p":"L6b","k":"0.5","s":"a","x":0.0195,"y":0.639},{"p":"L6b","k":"0.5","s":"a","x":0.02,"y":0.648},{"p":"L6b","k":"0.5","s":"a","x":0.0204,"y":0.636},{"p":"L6b","k":"0.5","s":"a","x":0.0239,"y":0.639},{"p":"L6b","k":"0.5","s":"a","x":0.028,"y":0.651},{"p":"L6b","k":"0.5","s":"a","x":0.0309,"y":0.666},{"p":"L6b","k":"0.5","s":"a","x":0.0346,"y":0.688},{"p":"L6b","k":"0.5","s":"a","x":0.037,"y":0.706},
  {"p":"L6b","k":"0.5","s":"d","x":0.037,"y":0.706},{"p":"L6b","k":"0.5","s":"d","x":0.0401,"y":0.737},{"p":"L6b","k":"0.5","s":"d","x":0.0438,"y":0.777},{"p":"L6b","k":"0.5","s":"d","x":0.05,"y":0.833},
  {"p":"L6b","k":"1.0","s":"a","x":0,"y":1},{"p":"L6b","k":"1.0","s":"a","x":0.0032,"y":0.977},{"p":"L6b","k":"1.0","s":"a","x":0.0062,"y":0.956},{"p":"L6b","k":"1.0","s":"a","x":0.0084,"y":0.94},{"p":"L6b","k":"1.0","s":"a","x":0.0099,"y":0.934},{"p":"L6b","k":"1.0","s":"a","x":0.0125,"y":0.897},{"p":"L6b","k":"1.0","s":"a","x":0.015,"y":0.848},{"p":"L6b","k":"1.0","s":"a","x":0.018,"y":0.786},{"p":"L6b","k":"1.0","s":"a","x":0.0209,"y":0.737},{"p":"L6b","k":"1.0","s":"a","x":0.0232,"y":0.7},{"p":"L6b","k":"1.0","s":"a","x":0.0246,"y":0.676},{"p":"L6b","k":"1.0","s":"a","x":0.0262,"y":0.671},
  {"p":"L6b","k":"1.0","s":"d","x":0.0262,"y":0.671},{"p":"L6b","k":"1.0","s":"d","x":0.0278,"y":0.66},{"p":"L6b","k":"1.0","s":"d","x":0.029,"y":0.657},{"p":"L6b","k":"1.0","s":"d","x":0.0309,"y":0.666},{"p":"L6b","k":"1.0","s":"d","x":0.0346,"y":0.688},{"p":"L6b","k":"1.0","s":"d","x":0.037,"y":0.706},{"p":"L6b","k":"1.0","s":"d","x":0.0401,"y":0.737},{"p":"L6b","k":"1.0","s":"d","x":0.0438,"y":0.777},{"p":"L6b","k":"1.0","s":"d","x":0.05,"y":0.833},
  {"p":"L6b","k":"1.5","s":"a","x":0,"y":1},{"p":"L6b","k":"1.5","s":"a","x":0.0051,"y":0.977},{"p":"L6b","k":"1.5","s":"a","x":0.0088,"y":0.959},{"p":"L6b","k":"1.5","s":"a","x":0.0114,"y":0.953},{"p":"L6b","k":"1.5","s":"a","x":0.0143,"y":0.916},{"p":"L6b","k":"1.5","s":"a","x":0.018,"y":0.866},{"p":"L6b","k":"1.5","s":"a","x":0.0217,"y":0.805},{"p":"L6b","k":"1.5","s":"a","x":0.0254,"y":0.75},{"p":"L6b","k":"1.5","s":"a","x":0.028,"y":0.716},
  {"p":"L6b","k":"1.5","s":"d","x":0.028,"y":0.716},{"p":"L6b","k":"1.5","s":"d","x":0.0298,"y":0.697},{"p":"L6b","k":"1.5","s":"d","x":0.0327,"y":0.694},{"p":"L6b","k":"1.5","s":"d","x":0.035,"y":0.697},{"p":"L6b","k":"1.5","s":"d","x":0.037,"y":0.706},{"p":"L6b","k":"1.5","s":"d","x":0.0401,"y":0.737},{"p":"L6b","k":"1.5","s":"d","x":0.0438,"y":0.777},{"p":"L6b","k":"1.5","s":"d","x":0.05,"y":0.833},
  {"p":"L6b","k":"2.0","s":"a","x":0,"y":1},{"p":"L6b","k":"2.0","s":"a","x":0.0051,"y":0.98},{"p":"L6b","k":"2.0","s":"a","x":0.0088,"y":0.965},{"p":"L6b","k":"2.0","s":"a","x":0.0114,"y":0.956},{"p":"L6b","k":"2.0","s":"a","x":0.0143,"y":0.928},{"p":"L6b","k":"2.0","s":"a","x":0.018,"y":0.885},{"p":"L6b","k":"2.0","s":"a","x":0.0217,"y":0.842},{"p":"L6b","k":"2.0","s":"a","x":0.0254,"y":0.799},{"p":"L6b","k":"2.0","s":"a","x":0.0291,"y":0.759},{"p":"L6b","k":"2.0","s":"a","x":0.0313,"y":0.74},{"p":"L6b","k":"2.0","s":"a","x":0.033,"y":0.736},
  {"p":"L6b","k":"2.0","s":"d","x":0.033,"y":0.736},{"p":"L6b","k":"2.0","s":"d","x":0.0346,"y":0.734},{"p":"L6b","k":"2.0","s":"d","x":0.0364,"y":0.73},{"p":"L6b","k":"2.0","s":"d","x":0.0383,"y":0.737},{"p":"L6b","k":"2.0","s":"d","x":0.042,"y":0.771},{"p":"L6b","k":"2.0","s":"d","x":0.05,"y":0.83},
  {"p":"L6b","k":"2.5","s":"a","x":0,"y":1},{"p":"L6b","k":"2.5","s":"a","x":0.0051,"y":0.983},{"p":"L6b","k":"2.5","s":"a","x":0.0077,"y":0.974},{"p":"L6b","k":"2.5","s":"a","x":0.0114,"y":0.959},{"p":"L6b","k":"2.5","s":"a","x":0.0143,"y":0.934},{"p":"L6b","k":"2.5","s":"a","x":0.018,"y":0.897},{"p":"L6b","k":"2.5","s":"a","x":0.0217,"y":0.86},{"p":"L6b","k":"2.5","s":"a","x":0.0254,"y":0.817},{"p":"L6b","k":"2.5","s":"a","x":0.0291,"y":0.786},{"p":"L6b","k":"2.5","s":"a","x":0.032,"y":0.768},{"p":"L6b","k":"2.5","s":"a","x":0.0345,"y":0.764},
  {"p":"L6b","k":"2.5","s":"d","x":0.0345,"y":0.764},{"p":"L6b","k":"2.5","s":"d","x":0.0364,"y":0.763},{"p":"L6b","k":"2.5","s":"d","x":0.0401,"y":0.768},{"p":"L6b","k":"2.5","s":"d","x":0.0438,"y":0.793},{"p":"L6b","k":"2.5","s":"d","x":0.05,"y":0.836}
 ],
 "bands": [
  {"p":"L4f","x":0.016,"y":1.046,"y2":1.169},{"p":"L4f","x":0.019,"y":1.063,"y2":1.218},{"p":"L4f","x":0.0229,"y":1.09,"y2":1.232},{"p":"L4f","x":0.0269,"y":1.096,"y2":1.234},{"p":"L4f","x":0.0308,"y":1.096,"y2":1.231},{"p":"L4f","x":0.0348,"y":1.09,"y2":1.218},{"p":"L4f","x":0.0387,"y":1.072,"y2":1.2},{"p":"L4f","x":0.044,"y":1.04,"y2":1.16},
  {"p":"L4b","x":0.0111,"y":0.878,"y2":0.961},{"p":"L4b","x":0.0143,"y":0.863,"y2":0.936},{"p":"L4b","x":0.018,"y":0.833,"y2":0.894},{"p":"L4b","x":0.0217,"y":0.796,"y2":0.863},{"p":"L4b","x":0.0246,"y":0.772,"y2":0.845},{"p":"L4b","x":0.0291,"y":0.781,"y2":0.82},{"p":"L4b","x":0.0327,"y":0.787,"y2":0.83},{"p":"L4b","x":0.0364,"y":0.796,"y2":0.869},{"p":"L4b","x":0.0401,"y":0.799,"y2":0.878},{"p":"L4b","x":0.0462,"y":0.808,"y2":0.882},
  {"p":"L5f","x":0.016,"y":1.103,"y2":1.239},{"p":"L5f","x":0.019,"y":1.159,"y2":1.277},{"p":"L5f","x":0.0229,"y":1.199,"y2":1.346},{"p":"L5f","x":0.0269,"y":1.228,"y2":1.398},{"p":"L5f","x":0.0308,"y":1.242,"y2":1.42},{"p":"L5f","x":0.0348,"y":1.245,"y2":1.414},{"p":"L5f","x":0.0387,"y":1.222,"y2":1.382},{"p":"L5f","x":0.0426,"y":1.182,"y2":1.332},{"p":"L5f","x":0.046,"y":1.142,"y2":1.29},
  {"p":"L5b","x":0.0111,"y":0.853,"y2":0.933},{"p":"L5b","x":0.0143,"y":0.848,"y2":0.91},{"p":"L5b","x":0.018,"y":0.808,"y2":0.865},{"p":"L5b","x":0.0217,"y":0.757,"y2":0.808},{"p":"L5b","x":0.0246,"y":0.73,"y2":0.777},{"p":"L5b","x":0.0291,"y":0.714,"y2":0.768},{"p":"L5b","x":0.0327,"y":0.711,"y2":0.765},{"p":"L5b","x":0.0364,"y":0.717,"y2":0.785},{"p":"L5b","x":0.0401,"y":0.762,"y2":0.828},{"p":"L5b","x":0.0456,"y":0.785,"y2":0.859},
  {"p":"L6f","x":0.016,"y":1.129,"y2":1.271},{"p":"L6f","x":0.019,"y":1.185,"y2":1.345},{"p":"L6f","x":0.0229,"y":1.265,"y2":1.443},{"p":"L6f","x":0.0269,"y":1.314,"y2":1.505},{"p":"L6f","x":0.0308,"y":1.326,"y2":1.529},{"p":"L6f","x":0.0348,"y":1.308,"y2":1.52},{"p":"L6f","x":0.0387,"y":1.271,"y2":1.468},{"p":"L6f","x":0.0426,"y":1.222,"y2":1.394},{"p":"L6f","x":0.0446,"y":1.195,"y2":1.369},{"p":"L6f","x":0.047,"y":1.163,"y2":1.317},
  {"p":"L6b","x":0.0111,"y":0.826,"y2":0.9},{"p":"L6b","x":0.0143,"y":0.817,"y2":0.873},{"p":"L6b","x":0.018,"y":0.774,"y2":0.842},{"p":"L6b","x":0.0217,"y":0.713,"y2":0.78},{"p":"L6b","x":0.0254,"y":0.67,"y2":0.722},{"p":"L6b","x":0.0291,"y":0.654,"y2":0.694},{"p":"L6b","x":0.0327,"y":0.651,"y2":0.685},{"p":"L6b","x":0.0364,"y":0.654,"y2":0.694},{"p":"L6b","x":0.0401,"y":0.673,"y2":0.719},{"p":"L6b","x":0.042,"y":0.672,"y2":0.722},{"p":"L6b","x":0.0445,"y":0.666,"y2":0.716}
 ],
 "dots": [
  {"p":"L4f","k":"0.5","x":0.0305,"y":1.489},{"p":"L4f","k":"1.0","x":0.0325,"y":1.351},{"p":"L4f","k":"1.5","x":0.0345,"y":1.271},{"p":"L4f","k":"2.0","x":0.032,"y":1.214},{"p":"L4f","k":"2.5","x":0.0335,"y":1.193},
  {"p":"L4b","k":"0.5","x":0.028,"y":0.731},{"p":"L4b","k":"1.0","x":0.0295,"y":0.767},{"p":"L4b","k":"1.5","x":0.0345,"y":0.79},{"p":"L4b","k":"2.0","x":0.0345,"y":0.805},{"p":"L4b","k":"2.5","x":0.0335,"y":0.827},
  {"p":"L5f","k":"0.5","x":0.03,"y":1.497},{"p":"L5f","k":"1.0","x":0.0305,"y":1.41},{"p":"L5f","k":"1.5","x":0.033,"y":1.349},{"p":"L5f","k":"2.0","x":0.033,"y":1.291},{"p":"L5f","k":"2.5","x":0.0335,"y":1.252},
  {"p":"L5b","k":"0.5","x":0.0245,"y":0.653},{"p":"L5b","k":"1.0","x":0.0305,"y":0.705},{"p":"L5b","k":"1.5","x":0.032,"y":0.737},{"p":"L5b","k":"2.0","x":0.031,"y":0.777},{"p":"L5b","k":"2.5","x":0.033,"y":0.795},
  {"p":"L6f","k":"0.5","x":0.0305,"y":1.491},{"p":"L6f","k":"1.0","x":0.0305,"y":1.414},{"p":"L6f","k":"1.5","x":0.0305,"y":1.352},{"p":"L6f","k":"2.0","x":0.0305,"y":1.324},{"p":"L6f","k":"2.5","x":0.033,"y":1.297},
  {"p":"L6b","k":"0.5","x":0.037,"y":0.706},{"p":"L6b","k":"1.0","x":0.0262,"y":0.671},{"p":"L6b","k":"1.5","x":0.028,"y":0.716},{"p":"L6b","k":"2.0","x":0.033,"y":0.736},{"p":"L6b","k":"2.5","x":0.0345,"y":0.764}
 ],
 "arrows": [
  {"p":"L4f","x":0.0141,"y":0.986},{"p":"L4b","x":0.0118,"y":1.017},{"p":"L5f","x":0.0141,"y":1.043},{"p":"L5b","x":0.0118,"y":1.021},{"p":"L6f","x":0.0141,"y":1.055},{"p":"L6b","x":0.0117,"y":0.991}
 ],
 "texts": [
  {"p":"L4f","c":"title","t":"L4, 𝑥\u2002=\u2002+\u200260 km","x":0.0015,"y":1.559},
  {"p":"L4b","c":"title","t":"L4, 𝑥\u2002=\u2002−\u200260 km","x":0.001,"y":1.259},
  {"p":"L5f","c":"title","t":"L5, 𝑥\u2002=\u2002+\u2002160 km","x":0.0009,"y":1.557},
  {"p":"L5b","c":"title","t":"L5, 𝑥\u2002=\u2002−160 km","x":0.001,"y":1.257},
  {"p":"L6f","c":"title","t":"L6, 𝑥\u2002=\u2002+\u2002260 km","x":0.0009,"y":1.56},
  {"p":"L6b","c":"title","t":"L6, 𝑥\u2002=\u2002−260 km","x":0.001,"y":1.26},
  {"p":"L4f","c":"ann","t":"𝒦= 0.50","x":0.003,"y":1.148},{"p":"L4f","c":"ann","t":"𝒦= 2.50","x":0.0109,"y":0.955},
  {"p":"L4b","c":"ann","t":"𝒦= 2.50","x":0.0097,"y":1.04},{"p":"L4b","c":"ann","t":"𝒦= 0.50","x":0.0021,"y":0.867},
  {"p":"L5f","c":"ann","t":"𝒦= 0.50","x":0.0046,"y":1.196},{"p":"L5f","c":"ann","t":"𝒦= 2.50","x":0.0123,"y":1.012},
  {"p":"L5b","c":"ann","t":"𝒦= 2.50","x":0.0093,"y":1.047},{"p":"L5b","c":"ann","t":"𝒦= 0.50","x":0.0023,"y":0.859},
  {"p":"L6f","c":"ann","t":"𝒦= 0.50","x":0.0034,"y":1.22},{"p":"L6f","c":"ann","t":"𝒦= 2.50","x":0.0125,"y":1.025},
  {"p":"L6b","c":"ann","t":"𝒦= 2.50","x":0.0093,"y":1.017},{"p":"L6b","c":"ann","t":"𝒦= 0.50","x":0.002,"y":0.836},
  {"p":"L4f","c":"hdr","t":"f where D = 2x/𝒦","x":0.0306,"y":1.009},
  {"p":"L4b","c":"hdr","t":"f where D = 2x/𝒦","x":0.0303,"y":1.26},
  {"p":"L5f","c":"hdr","t":"f where D = 2x/𝒦","x":0.0302,"y":1.014},
  {"p":"L5b","c":"hdr","t":"f where D = 2x/𝒦","x":0.0302,"y":1.261},
  {"p":"L6f","c":"hdr","t":"f where D = 2x/𝒦","x":0.0304,"y":1.015},
  {"p":"L6b","c":"hdr","t":"f where D = 2x/𝒦","x":0.0302,"y":1.266},
  {"p":"L4f","c":"leg","t":"𝒦 = 2.5, f = 0.0335 Hz","x":0.0306,"y":0.974},{"p":"L4f","c":"leg","t":"𝒦 = 2.0, f = 0.0320 Hz","x":0.0306,"y":0.9417},{"p":"L4f","c":"leg","t":"𝒦 = 1.5, f = 0.0345 Hz","x":0.0306,"y":0.9104},{"p":"L4f","c":"leg","t":"𝒦 = 1.0, f = 0.0325 Hz","x":0.0306,"y":0.8762},{"p":"L4f","c":"leg","t":"𝒦 = 0.5, f = 0.0305 Hz","x":0.0306,"y":0.8439},
  {"p":"L4b","c":"leg","t":"𝒦 = 2.5, f = 0.0335 Hz","x":0.0303,"y":1.225},{"p":"L4b","c":"leg","t":"𝒦 = 2.0, f = 0.0345 Hz","x":0.0303,"y":1.1927},{"p":"L4b","c":"leg","t":"𝒦 = 1.5, f = 0.0345 Hz","x":0.0303,"y":1.1594},{"p":"L4b","c":"leg","t":"𝒦 = 1.0, f = 0.0295 Hz","x":0.0303,"y":1.1271},{"p":"L4b","c":"leg","t":"𝒦 = 0.5, f = 0.0280 Hz","x":0.0303,"y":1.0939},
  {"p":"L5f","c":"leg","t":"𝒦 = 2.5, f = 0.0335 Hz","x":0.0302,"y":0.977},{"p":"L5f","c":"leg","t":"𝒦 = 2.0, f = 0.0330 Hz","x":0.0302,"y":0.9447},{"p":"L5f","c":"leg","t":"𝒦 = 1.5, f = 0.0330 Hz","x":0.0302,"y":0.9124},{"p":"L5f","c":"leg","t":"𝒦 = 1.0, f = 0.0305 Hz","x":0.0302,"y":0.8792},{"p":"L5f","c":"leg","t":"𝒦 = 0.5, f = 0.0300 Hz","x":0.0302,"y":0.8469},
  {"p":"L5b","c":"leg","t":"𝒦 = 2.5, f = 0.0330 Hz","x":0.0302,"y":1.227},{"p":"L5b","c":"leg","t":"𝒦 = 2.0, f = 0.0310 Hz","x":0.0302,"y":1.1947},{"p":"L5b","c":"leg","t":"𝒦 = 1.5, f = 0.0320 Hz","x":0.0302,"y":1.1624},{"p":"L5b","c":"leg","t":"𝒦 = 1.0, f = 0.0305 Hz","x":0.0302,"y":1.1301},{"p":"L5b","c":"leg","t":"𝒦 = 0.5, f = 0.0245 Hz","x":0.0302,"y":1.0959},
  {"p":"L6f","c":"leg","t":"𝒦 = 2.5, f = 0.0330 Hz","x":0.0304,"y":0.98},{"p":"L6f","c":"leg","t":"𝒦 = 2.0, f = 0.0305 Hz","x":0.0304,"y":0.9477},{"p":"L6f","c":"leg","t":"𝒦 = 1.5, f = 0.0305 Hz","x":0.0304,"y":0.9145},{"p":"L6f","c":"leg","t":"𝒦 = 1.0, f = 0.0305 Hz","x":0.0304,"y":0.8812},{"p":"L6f","c":"leg","t":"𝒦 = 0.5, f = 0.0305 Hz","x":0.0304,"y":0.848},
  {"p":"L6b","c":"leg","t":"𝒦 = 2.5, f = 0.0345 Hz","x":0.0302,"y":1.231},{"p":"L6b","c":"leg","t":"𝒦 = 2.0, f = 0.0300 Hz","x":0.0302,"y":1.1997},{"p":"L6b","c":"leg","t":"𝒦 = 1.5, f = 0.0280 Hz","x":0.0302,"y":1.1655},{"p":"L6b","c":"leg","t":"𝒦 = 1.0, f = 0.0270 Hz","x":0.0302,"y":1.1322},{"p":"L6b","c":"leg","t":"𝒦 = 0.5, f = 0.0370 Hz","x":0.0302,"y":1.0989}
 ]
},
"columns": 2,
"bounds": "flush",
"spacing": {"row": 37, "column": 56},
"concat": [
 {
  "width": 500, "height": 500,
  "title": {"text": "Forward Transmission Factors", "offset": 3},
  "encoding": {
   "x": {"field": "x", "type": "quantitative", "scale": {"domain": [0, 0.05], "nice": false, "zero": false}, "axis": {"values": [0, 0.01, 0.02, 0.03, 0.04, 0.05], "labels": false, "title": null}},
   "y": {"field": "y", "type": "quantitative", "scale": {"domain": [0.8, 1.6], "nice": false, "zero": false}, "axis": {"values": [0.8, 0.9, 1.0, 1.1, 1.2, 1.3, 1.4, 1.5, 1.6], "labelExpr": "round(datum.value*10)%2==0 ? format(datum.value,'.1f') : ''", "title": "Coefficients"}}
  },
  "layer": [
   {"data": {"name": "bands"}, "transform": [{"filter": "datum.p=='L4f'"}], "mark": {"type": "area", "color": "#c8c8c8", "opacity": 1}, "encoding": {"y2": {"field": "y2"}}},
   {"data": {"name": "lines"}, "transform": [{"filter": "datum.p=='L4f'"}], "mark": {"type": "line", "strokeWidth": 2.6}, "encoding": {"color": {"field": "k", "type": "nominal", "scale": {"domain": ["0.5", "1.0", "1.5", "2.0", "2.5"], "range": ["#e8141c", "#1a1acc", "#2ee3e3", "#e21ee2", "#e8141c"]}, "legend": null}, "strokeDash": {"field": "s", "type": "nominal", "scale": {"domain": ["a", "d"], "range": [[1, 0], [6, 4]]}, "legend": null}}},
   {"data": {"name": "arrows"}, "transform": [{"filter": "datum.p=='L4f'"}], "mark": {"type": "point", "shape": "M0,0L0.16,0.53L0.035,0.53L0.035,1L-0.035,1L-0.035,0.53L-0.16,0.53Z", "size": 30976, "angle": 150.6, "filled": true, "color": "#72ead9", "opacity": 1, "strokeWidth": 0}},
   {"data": {"name": "dots"}, "transform": [{"filter": "datum.p=='L4f'"}], "mark": {"type": "point", "filled": true, "fill": "#f3f313", "stroke": "black", "strokeWidth": 1.3, "size": 210, "opacity": 1}},
   {"data": {"name": "texts"}, "transform": [{"filter": "datum.p=='L4f' && datum.c=='title'"}], "mark": {"type": "text", "font": "Liberation Serif", "fontSize": 31, "align": "left", "baseline": "middle"}, "encoding": {"text": {"field": "t"}}},
   {"data": {"name": "texts"}, "transform": [{"filter": "datum.p=='L4f' && datum.c=='ann'"}], "mark": {"type": "text", "font": "Liberation Sans", "fontSize": 21, "align": "left", "baseline": "middle"}, "encoding": {"text": {"field": "t"}}},
   {"data": {"name": "texts"}, "transform": [{"filter": "datum.p=='L4f' && datum.c=='hdr'"}], "mark": {"type": "text", "font": "Liberation Serif", "fontSize": 19, "fontStyle": "italic", "align": "left", "baseline": "middle"}, "encoding": {"text": {"field": "t"}}},
   {"data": {"name": "texts"}, "transform": [{"filter": "datum.p=='L4f' && datum.c=='leg'"}], "mark": {"type": "text", "font": "Liberation Sans", "fontSize": 19, "align": "left", "baseline": "middle"}, "encoding": {"text": {"field": "t"}}}
  ]
 },
 {
  "width": 500, "height": 500,
  "title": {"text": "Backward Transmission Factors", "offset": 16},
  "encoding": {
   "x": {"field": "x", "type": "quantitative", "scale": {"domain": [0, 0.05], "nice": false, "zero": false}, "axis": {"values": [0, 0.01, 0.02, 0.03, 0.04, 0.05], "labels": false, "title": null}},
   "y": {"field": "y", "type": "quantitative", "scale": {"domain": [0.5, 1.3], "nice": false, "zero": false}, "axis": {"values": [0.5, 0.6, 0.7, 0.8, 0.9, 1.0, 1.1, 1.2, 1.3], "labelExpr": "round(datum.value*10)%2==0 ? format(datum.value,'.1f') : ''", "title": null}}
  },
  "layer": [
   {"data": {"name": "bands"}, "transform": [{"filter": "datum.p=='L4b'"}], "mark": {"type": "area", "color": "#c8c8c8", "opacity": 1}, "encoding": {"y2": {"field": "y2"}}},
   {"data": {"name": "lines"}, "transform": [{"filter": "datum.p=='L4b'"}], "mark": {"type": "line", "strokeWidth": 2.6}, "encoding": {"color": {"field": "k", "type": "nominal", "scale": {"domain": ["0.5", "1.0", "1.5", "2.0", "2.5"], "range": ["#e8141c", "#1a1acc", "#2ee3e3", "#e21ee2", "#e8141c"]}, "legend": null}, "strokeDash": {"field": "s", "type": "nominal", "scale": {"domain": ["a", "d"], "range": [[1, 0], [6, 4]]}, "legend": null}}},
   {"data": {"name": "arrows"}, "transform": [{"filter": "datum.p=='L4b'"}], "mark": {"type": "point", "shape": "M0,0L0.16,0.53L0.035,0.53L0.035,1L-0.035,1L-0.035,0.53L-0.16,0.53Z", "size": 30976, "angle": 30.7, "filled": true, "color": "#72ead9", "opacity": 1, "strokeWidth": 0}},
   {"data": {"name": "dots"}, "transform": [{"filter": "datum.p=='L4b'"}], "mark": {"type": "point", "filled": true, "fill": "#f3f313", "stroke": "black", "strokeWidth": 1.3, "size": 210, "opacity": 1}},
   {"data": {"name": "texts"}, "transform": [{"filter": "datum.p=='L4b' && datum.c=='title'"}], "mark": {"type": "text", "font": "Liberation Serif", "fontSize": 31, "align": "left", "baseline": "middle"}, "encoding": {"text": {"field": "t"}}},
   {"data": {"name": "texts"}, "transform": [{"filter": "datum.p=='L4b' && datum.c=='ann'"}], "mark": {"type": "text", "font": "Liberation Sans", "fontSize": 21, "align": "left", "baseline": "middle"}, "encoding": {"text": {"field": "t"}}},
   {"data": {"name": "texts"}, "transform": [{"filter": "datum.p=='L4b' && datum.c=='hdr'"}], "mark": {"type": "text", "font": "Liberation Serif", "fontSize": 19, "fontStyle": "italic", "align": "left", "baseline": "middle"}, "encoding": {"text": {"field": "t"}}},
   {"data": {"name": "texts"}, "transform": [{"filter": "datum.p=='L4b' && datum.c=='leg'"}], "mark": {"type": "text", "font": "Liberation Sans", "fontSize": 19, "align": "left", "baseline": "middle"}, "encoding": {"text": {"field": "t"}}}
  ]
 },
 {
  "width": 500, "height": 500,
  "encoding": {
   "x": {"field": "x", "type": "quantitative", "scale": {"domain": [0, 0.05], "nice": false, "zero": false}, "axis": {"values": [0, 0.01, 0.02, 0.03, 0.04, 0.05], "labels": false, "title": null}},
   "y": {"field": "y", "type": "quantitative", "scale": {"domain": [0.8, 1.6], "nice": false, "zero": false}, "axis": {"values": [0.8, 0.9, 1.0, 1.1, 1.2, 1.3, 1.4, 1.5, 1.6], "labelExpr": "round(datum.value*10)%2==0 ? format(datum.value,'.1f') : ''", "title": "Coefficients"}}
  },
  "layer": [
   {"data": {"name": "bands"}, "transform": [{"filter": "datum.p=='L5f'"}], "mark": {"type": "area", "color": "#c8c8c8", "opacity": 1}, "encoding": {"y2": {"field": "y2"}}},
   {"data": {"name": "lines"}, "transform": [{"filter": "datum.p=='L5f'"}], "mark": {"type": "line", "strokeWidth": 2.6}, "encoding": {"color": {"field": "k", "type": "nominal", "scale": {"domain": ["0.5", "1.0", "1.5", "2.0", "2.5"], "range": ["#e8141c", "#1a1acc", "#2ee3e3", "#e21ee2", "#e8141c"]}, "legend": null}, "strokeDash": {"field": "s", "type": "nominal", "scale": {"domain": ["a", "d"], "range": [[1, 0], [6, 4]]}, "legend": null}}},
   {"data": {"name": "arrows"}, "transform": [{"filter": "datum.p=='L5f'"}], "mark": {"type": "point", "shape": "M0,0L0.16,0.53L0.035,0.53L0.035,1L-0.035,1L-0.035,0.53L-0.16,0.53Z", "size": 30976, "angle": 150.9, "filled": true, "color": "#72ead9", "opacity": 1, "strokeWidth": 0}},
   {"data": {"name": "dots"}, "transform": [{"filter": "datum.p=='L5f'"}], "mark": {"type": "point", "filled": true, "fill": "#f3f313", "stroke": "black", "strokeWidth": 1.3, "size": 210, "opacity": 1}},
   {"data": {"name": "texts"}, "transform": [{"filter": "datum.p=='L5f' && datum.c=='title'"}], "mark": {"type": "text", "font": "Liberation Serif", "fontSize": 31, "align": "left", "baseline": "middle"}, "encoding": {"text": {"field": "t"}}},
   {"data": {"name": "texts"}, "transform": [{"filter": "datum.p=='L5f' && datum.c=='ann'"}], "mark": {"type": "text", "font": "Liberation Sans", "fontSize": 21, "align": "left", "baseline": "middle"}, "encoding": {"text": {"field": "t"}}},
   {"data": {"name": "texts"}, "transform": [{"filter": "datum.p=='L5f' && datum.c=='hdr'"}], "mark": {"type": "text", "font": "Liberation Serif", "fontSize": 19, "fontStyle": "italic", "align": "left", "baseline": "middle"}, "encoding": {"text": {"field": "t"}}},
   {"data": {"name": "texts"}, "transform": [{"filter": "datum.p=='L5f' && datum.c=='leg'"}], "mark": {"type": "text", "font": "Liberation Sans", "fontSize": 19, "align": "left", "baseline": "middle"}, "encoding": {"text": {"field": "t"}}}
  ]
 },
 {
  "width": 500, "height": 500,
  "encoding": {
   "x": {"field": "x", "type": "quantitative", "scale": {"domain": [0, 0.05], "nice": false, "zero": false}, "axis": {"values": [0, 0.01, 0.02, 0.03, 0.04, 0.05], "labels": false, "title": null}},
   "y": {"field": "y", "type": "quantitative", "scale": {"domain": [0.5, 1.3], "nice": false, "zero": false}, "axis": {"values": [0.5, 0.6, 0.7, 0.8, 0.9, 1.0, 1.1, 1.2, 1.3], "labelExpr": "round(datum.value*10)%2==0 ? format(datum.value,'.1f') : ''", "title": null}}
  },
  "layer": [
   {"data": {"name": "bands"}, "transform": [{"filter": "datum.p=='L5b'"}], "mark": {"type": "area", "color": "#c8c8c8", "opacity": 1}, "encoding": {"y2": {"field": "y2"}}},
   {"data": {"name": "lines"}, "transform": [{"filter": "datum.p=='L5b'"}], "mark": {"type": "line", "strokeWidth": 2.6}, "encoding": {"color": {"field": "k", "type": "nominal", "scale": {"domain": ["0.5", "1.0", "1.5", "2.0", "2.5"], "range": ["#e8141c", "#1a1acc", "#2ee3e3", "#e21ee2", "#e8141c"]}, "legend": null}, "strokeDash": {"field": "s", "type": "nominal", "scale": {"domain": ["a", "d"], "range": [[1, 0], [6, 4]]}, "legend": null}}},
   {"data": {"name": "arrows"}, "transform": [{"filter": "datum.p=='L5b'"}], "mark": {"type": "point", "shape": "M0,0L0.16,0.53L0.035,0.53L0.035,1L-0.035,1L-0.035,0.53L-0.16,0.53Z", "size": 30976, "angle": 32.3, "filled": true, "color": "#72ead9", "opacity": 1, "strokeWidth": 0}},
   {"data": {"name": "dots"}, "transform": [{"filter": "datum.p=='L5b'"}], "mark": {"type": "point", "filled": true, "fill": "#f3f313", "stroke": "black", "strokeWidth": 1.3, "size": 210, "opacity": 1}},
   {"data": {"name": "texts"}, "transform": [{"filter": "datum.p=='L5b' && datum.c=='title'"}], "mark": {"type": "text", "font": "Liberation Serif", "fontSize": 31, "align": "left", "baseline": "middle"}, "encoding": {"text": {"field": "t"}}},
   {"data": {"name": "texts"}, "transform": [{"filter": "datum.p=='L5b' && datum.c=='ann'"}], "mark": {"type": "text", "font": "Liberation Sans", "fontSize": 21, "align": "left", "baseline": "middle"}, "encoding": {"text": {"field": "t"}}},
   {"data": {"name": "texts"}, "transform": [{"filter": "datum.p=='L5b' && datum.c=='hdr'"}], "mark": {"type": "text", "font": "Liberation Serif", "fontSize": 19, "fontStyle": "italic", "align": "left", "baseline": "middle"}, "encoding": {"text": {"field": "t"}}},
   {"data": {"name": "texts"}, "transform": [{"filter": "datum.p=='L5b' && datum.c=='leg'"}], "mark": {"type": "text", "font": "Liberation Sans", "fontSize": 19, "align": "left", "baseline": "middle"}, "encoding": {"text": {"field": "t"}}}
  ]
 },
 {
  "width": 500, "height": 500,
  "encoding": {
   "x": {"field": "x", "type": "quantitative", "scale": {"domain": [0, 0.05], "nice": false, "zero": false}, "axis": {"values": [0, 0.01, 0.02, 0.03, 0.04, 0.05], "labelExpr": "datum.value==0 ? '0' : format(datum.value,'.2f')", "title": "Frequency (Hz)"}},
   "y": {"field": "y", "type": "quantitative", "scale": {"domain": [0.8, 1.6], "nice": false, "zero": false}, "axis": {"values": [0.8, 0.9, 1.0, 1.1, 1.2, 1.3, 1.4, 1.5, 1.6], "labelExpr": "round(datum.value*10)%2==0 ? format(datum.value,'.1f') : ''", "title": "Coefficients"}}
  },
  "layer": [
   {"data": {"name": "bands"}, "transform": [{"filter": "datum.p=='L6f'"}], "mark": {"type": "area", "color": "#c8c8c8", "opacity": 1}, "encoding": {"y2": {"field": "y2"}}},
   {"data": {"name": "lines"}, "transform": [{"filter": "datum.p=='L6f'"}], "mark": {"type": "line", "strokeWidth": 2.6}, "encoding": {"color": {"field": "k", "type": "nominal", "scale": {"domain": ["0.5", "1.0", "1.5", "2.0", "2.5"], "range": ["#e8141c", "#1a1acc", "#2ee3e3", "#e21ee2", "#e8141c"]}, "legend": null}, "strokeDash": {"field": "s", "type": "nominal", "scale": {"domain": ["a", "d"], "range": [[1, 0], [6, 4]]}, "legend": null}}},
   {"data": {"name": "arrows"}, "transform": [{"filter": "datum.p=='L6f'"}], "mark": {"type": "point", "shape": "M0,0L0.16,0.53L0.035,0.53L0.035,1L-0.035,1L-0.035,0.53L-0.16,0.53Z", "size": 30976, "angle": 151.3, "filled": true, "color": "#72ead9", "opacity": 1, "strokeWidth": 0}},
   {"data": {"name": "dots"}, "transform": [{"filter": "datum.p=='L6f'"}], "mark": {"type": "point", "filled": true, "fill": "#f3f313", "stroke": "black", "strokeWidth": 1.3, "size": 210, "opacity": 1}},
   {"data": {"name": "texts"}, "transform": [{"filter": "datum.p=='L6f' && datum.c=='title'"}], "mark": {"type": "text", "font": "Liberation Serif", "fontSize": 31, "align": "left", "baseline": "middle"}, "encoding": {"text": {"field": "t"}}},
   {"data": {"name": "texts"}, "transform": [{"filter": "datum.p=='L6f' && datum.c=='ann'"}], "mark": {"type": "text", "font": "Liberation Sans", "fontSize": 21, "align": "left", "baseline": "middle"}, "encoding": {"text": {"field": "t"}}},
   {"data": {"name": "texts"}, "transform": [{"filter": "datum.p=='L6f' && datum.c=='hdr'"}], "mark": {"type": "text", "font": "Liberation Serif", "fontSize": 19, "fontStyle": "italic", "align": "left", "baseline": "middle"}, "encoding": {"text": {"field": "t"}}},
   {"data": {"name": "texts"}, "transform": [{"filter": "datum.p=='L6f' && datum.c=='leg'"}], "mark": {"type": "text", "font": "Liberation Sans", "fontSize": 19, "align": "left", "baseline": "middle"}, "encoding": {"text": {"field": "t"}}}
  ]
 },
 {
  "width": 500, "height": 500,
  "encoding": {
   "x": {"field": "x", "type": "quantitative", "scale": {"domain": [0, 0.05], "nice": false, "zero": false}, "axis": {"values": [0, 0.01, 0.02, 0.03, 0.04, 0.05], "labelExpr": "datum.value==0 ? '0' : format(datum.value,'.2f')", "title": "Frequency (Hz)"}},
   "y": {"field": "y", "type": "quantitative", "scale": {"domain": [0.5, 1.3], "nice": false, "zero": false}, "axis": {"values": [0.5, 0.6, 0.7, 0.8, 0.9, 1.0, 1.1, 1.2, 1.3], "labelExpr": "round(datum.value*10)%2==0 ? format(datum.value,'.1f') : ''", "title": null}}
  },
  "layer": [
   {"data": {"name": "bands"}, "transform": [{"filter": "datum.p=='L6b'"}], "mark": {"type": "area", "color": "#c8c8c8", "opacity": 1}, "encoding": {"y2": {"field": "y2"}}},
   {"data": {"name": "lines"}, "transform": [{"filter": "datum.p=='L6b'"}], "mark": {"type": "line", "strokeWidth": 2.6}, "encoding": {"color": {"field": "k", "type": "nominal", "scale": {"domain": ["0.5", "1.0", "1.5", "2.0", "2.5"], "range": ["#e8141c", "#1a1acc", "#2ee3e3", "#e21ee2", "#e8141c"]}, "legend": null}, "strokeDash": {"field": "s", "type": "nominal", "scale": {"domain": ["a", "d"], "range": [[1, 0], [6, 4]]}, "legend": null}}},
   {"data": {"name": "arrows"}, "transform": [{"filter": "datum.p=='L6b'"}], "mark": {"type": "point", "shape": "M0,0L0.16,0.53L0.035,0.53L0.035,1L-0.035,1L-0.035,0.53L-0.16,0.53Z", "size": 30976, "angle": 32.2, "filled": true, "color": "#72ead9", "opacity": 1, "strokeWidth": 0}},
   {"data": {"name": "dots"}, "transform": [{"filter": "datum.p=='L6b'"}], "mark": {"type": "point", "filled": true, "fill": "#f3f313", "stroke": "black", "strokeWidth": 1.3, "size": 210, "opacity": 1}},
   {"data": {"name": "texts"}, "transform": [{"filter": "datum.p=='L6b' && datum.c=='title'"}], "mark": {"type": "text", "font": "Liberation Serif", "fontSize": 31, "align": "left", "baseline": "middle"}, "encoding": {"text": {"field": "t"}}},
   {"data": {"name": "texts"}, "transform": [{"filter": "datum.p=='L6b' && datum.c=='ann'"}], "mark": {"type": "text", "font": "Liberation Sans", "fontSize": 21, "align": "left", "baseline": "middle"}, "encoding": {"text": {"field": "t"}}},
   {"data": {"name": "texts"}, "transform": [{"filter": "datum.p=='L6b' && datum.c=='hdr'"}], "mark": {"type": "text", "font": "Liberation Serif", "fontSize": 19, "fontStyle": "italic", "align": "left", "baseline": "middle"}, "encoding": {"text": {"field": "t"}}},
   {"data": {"name": "texts"}, "transform": [{"filter": "datum.p=='L6b' && datum.c=='leg'"}], "mark": {"type": "text", "font": "Liberation Sans", "fontSize": 19, "align": "left", "baseline": "middle"}, "encoding": {"text": {"field": "t"}}}
  ]
 }
]
}
